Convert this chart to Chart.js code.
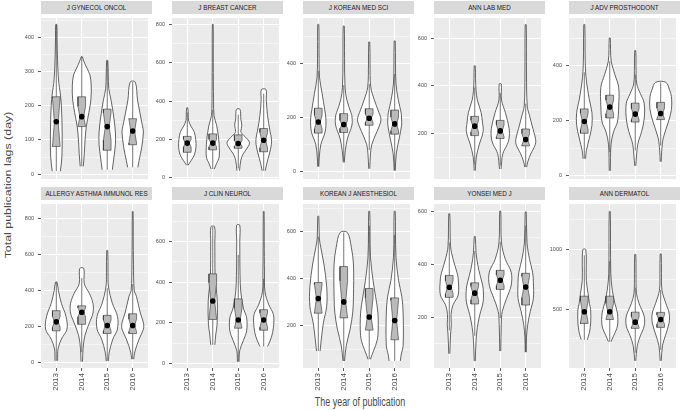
<!DOCTYPE html>
<html>
<head>
<meta charset="utf-8">
<script src="https://cdn.jsdelivr.net/npm/chart.js@4.4.1/dist/chart.umd.min.js"></script>
<style>
  body { margin: 0; width: 680px; height: 410px; overflow: hidden; position: relative; background: #fff;
         font-family: "Liberation Sans", Arial, sans-serif; }
  canvas { position: absolute; }
  .strip { position: absolute; background: #d9d9d9; color: #1a1a1a; font-size: 6.3px; line-height: 13px;
           height: 13px; text-align: center; white-space: nowrap; }
  .title { position: absolute; color: #4a4a4a; font-size: 12.4px; font-weight: 400; line-height: 14px; height: 14px;
           white-space: nowrap; text-align: center; }
</style>
</head>
<body>
<div class="title" style="left:260px;top:395px;width:200px;transform:scaleX(0.72)">The year of publication</div>
<div class="title" style="left:-92px;top:178px;width:200px;transform:scaleX(0.72) rotate(-90deg)">Total publication lags (day)</div>
<script>
const years = ['2013', '2014', '2015', '2016'];
const journals = [
    'J GYNECOL ONCOL', 'J BREAST CANCER', 'J KOREAN MED SCI', 'ANN LAB MED', 'J ADV PROSTHODONT',
    'ALLERGY ASTHMA IMMUNOL RES', 'J CLIN NEUROL', 'KOREAN J ANESTHESIOL', 'YONSEI MED J', 'ANN DERMATOL'
];

// labelled y ticks and y range of each facet (free scales)
const yTicks = [
    [0, 100, 200, 300, 400], [0, 200, 400, 600, 800], [0, 200, 400], [200, 400, 600], [0, 200, 400],
    [0, 200, 400, 600, 800], [0, 200, 400, 600], [200, 400, 600], [200, 400, 600], [500, 1000]
];
const yLimits = [
    [-14, 456], [-6, 833], [-26, 570], [9, 685], [-13, 575],
    [-31, 882], [-23, 784], [20, 717], [8, 628], [6, 1383]
];

// box statistics per journal, one value per year (null = no articles)
const q1 = [
    [81, 139, 70, 86], [133, 146, 154, 136], [144, 146, 173, 140], [null, 191, 179, 148], [154, 210, 195, 204],
    [176, 212, 161, 161], [null, 216, 173, 163], [253, 233, 181, 140], [275, 250, 305, 246], [380, 413, 339, 347]
];
const medians = [
    [152, 168, 139, 126], [181, 181, 179, 196], [185, 176, 199, 178], [null, 231, 211, 175], [197, 250, 224, 226],
    [226, 279, 206, 206], [null, 307, 213, 213], [315, 301, 237, 222], [313, 291, 340, 314], [478, 478, 391, 413]
];
const q3 = [
    [226, 226, 190, 162], [216, 229, 224, 257], [236, 216, 234, 229], [null, 272, 255, 219], [243, 293, 264, 267],
    [288, 315, 262, 271], [null, 440, 317, 264], [383, 451, 358, 318], [358, 330, 377, 366], [609, 609, 475, 473]
];
const means = [
    [153, 168, 139, 126], [181, 181, 179, 196], [185, 176, 199, 178], [null, 231, 211, 175], [197, 250, 224, 226],
    [226, 279, 206, 206], [null, 307, 213, 213], [315, 301, 237, 222], [313, 291, 340, 314], [478, 478, 391, 413]
];
const notches = [
    [70, 30, 40, 35], [20, 20, 15, 40], [25, 15, 15, 25], [null, 25, 25, 25], [30, 25, 20, 20],
    [30, 25, 30, 35], [null, 90, 60, 35], [60, 90, 80, 85], [25, 25, 20, 40], [90, 70, 45, 40]
];

// violin density profiles: [days, half width], from minimum to maximum
const gynecol = [
    [[9, 0.16], [50, 0.22], [120, 0.23], [200, 0.2], [240, 0.15], [265, 0.1], [310, 0.06], [360, 0.04], [400, 0.03], [437, 0.02]],
    [[23, 0.06], [60, 0.1], [100, 0.13], [140, 0.18], [180, 0.28], [220, 0.36], [260, 0.37], [290, 0.32], [310, 0.2], [330, 0.08], [343, 0.02]],
    [[13, 0.2], [31, 0.23], [86, 0.32], [123, 0.32], [170, 0.25], [216, 0.15], [250, 0.06], [290, 0.04], [332, 0.02]],
    [[20, 0.2], [40, 0.25], [77, 0.35], [123, 0.42], [142, 0.38], [216, 0.19], [269, 0.1]]
];
const breast = [
    [[66, 0.03], [90, 0.15], [120, 0.28], [160, 0.34], [200, 0.33], [240, 0.27], [270, 0.14], [300, 0.05], [330, 0.04], [365, 0.02]],
    [[46, 0.06], [75, 0.15], [108, 0.25], [174, 0.25], [207, 0.23], [274, 0.15], [324, 0.05], [400, 0.03], [600, 0.02], [800, 0.015]],
    [[37, 0.05], [91, 0.1], [124, 0.19], [170, 0.42], [191, 0.42], [230, 0.15], [241, 0.1], [274, 0.14], [307, 0.1], [357, 0.07]],
    [[37, 0.06], [75, 0.12], [124, 0.22], [174, 0.3], [207, 0.3], [241, 0.25], [324, 0.15], [407, 0.1], [460, 0.09]]
];
const koreanMed = [
    [[20, 0.02], [55, 0.04], [102, 0.1], [149, 0.27], [196, 0.3], [232, 0.25], [291, 0.15], [349, 0.05], [420, 0.03], [546, 0.02]],
    [[35, 0.02], [79, 0.06], [126, 0.15], [173, 0.32], [208, 0.32], [220, 0.28], [267, 0.12], [314, 0.05], [420, 0.03], [540, 0.02]],
    [[12, 0.02], [67, 0.05], [102, 0.1], [149, 0.3], [185, 0.45], [202, 0.45], [220, 0.38], [267, 0.2], [314, 0.06], [400, 0.03], [481, 0.02]],
    [[5, 0.02], [67, 0.06], [126, 0.18], [173, 0.27], [196, 0.27], [220, 0.25], [267, 0.14], [326, 0.05], [400, 0.03], [485, 0.02]]
];
const labMed = [
    null,
    [[44, 0.02], [101, 0.06], [155, 0.18], [208, 0.33], [248, 0.3], [288, 0.25], [341, 0.1], [381, 0.05], [430, 0.03], [484, 0.02]],
    [[51, 0.03], [115, 0.1], [155, 0.28], [181, 0.35], [221, 0.35], [288, 0.2], [341, 0.05], [408, 0.04]],
    [[59, 0.04], [81, 0.08], [115, 0.2], [155, 0.38], [181, 0.38], [221, 0.28], [275, 0.15], [315, 0.06], [450, 0.03], [657, 0.02]]
];
const prosthodont = [
    [[61, 0.05], [90, 0.08], [137, 0.2], [183, 0.3], [230, 0.3], [276, 0.2], [334, 0.1], [380, 0.05], [450, 0.03], [551, 0.02]],
    [[17, 0.02], [114, 0.05], [160, 0.15], [195, 0.3], [253, 0.35], [322, 0.35], [369, 0.2], [415, 0.06], [460, 0.03], [502, 0.02]],
    [[35, 0.02], [114, 0.1], [160, 0.25], [206, 0.35], [264, 0.35], [299, 0.2], [334, 0.06], [400, 0.03], [456, 0.02]],
    [[50, 0.02], [90, 0.04], [137, 0.1], [195, 0.3], [241, 0.42], [288, 0.42], [311, 0.35], [340, 0.2]]
];
const allergy = [
    [[9, 0.05], [76, 0.07], [130, 0.2], [185, 0.42], [257, 0.38], [329, 0.2], [402, 0.08], [447, 0.03]],
    [[4, 0.03], [76, 0.05], [148, 0.12], [221, 0.3], [275, 0.44], [329, 0.44], [384, 0.3], [438, 0.1], [523, 0.08]],
    [[7, 0.04], [58, 0.08], [130, 0.22], [185, 0.4], [257, 0.4], [329, 0.2], [420, 0.05], [500, 0.03], [623, 0.02]],
    [[18, 0.04], [58, 0.08], [130, 0.25], [185, 0.42], [221, 0.42], [275, 0.3], [366, 0.15], [402, 0.06], [547, 0.03], [700, 0.02], [840, 0.015]]
];
const clinNeurol = [
    null,
    [[91, 0.08], [144, 0.12], [192, 0.17], [304, 0.18], [384, 0.12], [432, 0.09], [592, 0.08], [672, 0.07]],
    [[8, 0.03], [64, 0.06], [112, 0.2], [160, 0.33], [224, 0.33], [272, 0.2], [352, 0.1], [432, 0.07], [600, 0.06], [680, 0.06]],
    [[83, 0.15], [128, 0.3], [176, 0.38], [240, 0.38], [288, 0.2], [352, 0.05], [450, 0.03], [600, 0.02], [747, 0.015]]
];
const anesthesiol = [
    [[92, 0.07], [143, 0.12], [212, 0.2], [282, 0.33], [365, 0.33], [462, 0.22], [531, 0.1], [572, 0.04], [665, 0.02]],
    [[50, 0.03], [116, 0.1], [185, 0.25], [254, 0.35], [323, 0.38], [462, 0.38], [531, 0.3], [596, 0.14]],
    [[57, 0.05], [74, 0.1], [116, 0.25], [157, 0.34], [254, 0.34], [323, 0.25], [392, 0.15], [489, 0.05], [600, 0.03], [686, 0.02]],
    [[50, 0.22], [74, 0.25], [116, 0.33], [254, 0.33], [323, 0.28], [392, 0.15], [489, 0.05], [600, 0.03], [686, 0.02]]
];
const yonsei = [
    [[62, 0.02], [136, 0.05], [173, 0.08], [210, 0.07], [247, 0.15], [284, 0.35], [345, 0.35], [370, 0.3], [419, 0.15], [468, 0.05], [591, 0.02]],
    [[34, 0.02], [111, 0.05], [161, 0.1], [210, 0.2], [259, 0.33], [308, 0.33], [333, 0.28], [382, 0.15], [444, 0.05], [505, 0.02]],
    [[72, 0.02], [173, 0.04], [222, 0.08], [271, 0.25], [321, 0.43], [370, 0.43], [419, 0.2], [481, 0.05], [601, 0.02]],
    [[68, 0.02], [124, 0.03], [173, 0.08], [222, 0.18], [271, 0.3], [333, 0.3], [370, 0.27], [419, 0.15], [481, 0.05], [598, 0.02]]
];
const dermatol = [
    [[243, 0.12], [303, 0.2], [385, 0.25], [495, 0.25], [549, 0.2], [631, 0.15], [740, 0.08], [1000, 0.06]],
    [[227, 0.05], [276, 0.15], [358, 0.3], [467, 0.3], [549, 0.2], [658, 0.1], [800, 0.04], [1320, 0.02]],
    [[66, 0.02], [194, 0.08], [276, 0.2], [358, 0.35], [440, 0.35], [549, 0.15], [631, 0.05], [800, 0.03], [959, 0.02]],
    [[66, 0.02], [194, 0.07], [276, 0.18], [385, 0.33], [467, 0.33], [549, 0.2], [658, 0.05], [800, 0.03], [964, 0.02]]
];
const shapes = [gynecol, breast, koreanMed, labMed, prosthodont, allergy, clinNeurol, anesthesiol, yonsei, dermatol];

// facet layout (pixels)
const colLeft = [41, 172, 303, 434, 569];
const panelW = 111;
const rowTop = [14, 200];
const panelH = [169, 168];
const stripTop = [1, 187];
const yAxisW = 30;
const xAxisH = 30;
const BOX_HALF = 0.15;

Chart.defaults.font.family = "'Liberation Sans', Arial, sans-serif";

const panelBg = {
    id: 'panelBg',
    beforeDraw(chart) {
        const a = chart.chartArea;
        const ctx = chart.ctx;
        ctx.save();
        ctx.fillStyle = '#ebebeb';
        ctx.fillRect(a.left, a.top, a.right - a.left, a.bottom - a.top);
        ctx.restore();
    }
};

function outline(c, prof) {
    const right = prof.map(p => ({ x: c + p[1], y: p[0] }));
    const left = prof.slice().reverse().map(p => ({ x: c - p[1], y: p[0] }));
    return right.concat(left);
}

function notchedBox(c, lo, m, hi, n) {
    const a = c - BOX_HALF, b = c + BOX_HALF;
    const ia = c - BOX_HALF * 0.5, ib = c + BOX_HALF * 0.5;
    const nl = Math.max(lo, m - n), nh = Math.min(hi, m + n);
    return [
        { x: a, y: hi }, { x: a, y: nh }, { x: ia, y: m }, { x: a, y: nl }, { x: a, y: lo },
        { x: b, y: lo }, { x: b, y: nl }, { x: ib, y: m }, { x: b, y: nh }, { x: b, y: hi }, { x: a, y: hi }
    ];
}

function gridValues(majors, lim) {
    const step = majors[1] - majors[0];
    const out = [];
    for (let v = majors[0] - step; v <= lim[1]; v += step / 2) {
        if (v >= lim[0]) out.push(v);
    }
    return out;
}

journals.forEach((name, p) => {
    const row = p < 5 ? 0 : 1;
    const col = p % 5;
    const bottom = row === 1;

    const strip = document.createElement('div');
    strip.className = 'strip';
    strip.textContent = name;
    strip.style.left = colLeft[col] + 'px';
    strip.style.top = stripTop[row] + 'px';
    strip.style.width = panelW + 'px';
    document.body.appendChild(strip);

    const cv = document.createElement('canvas');
    cv.width = panelW + yAxisW;
    cv.height = panelH[row] + (bottom ? xAxisH : 0);
    cv.style.left = (colLeft[col] - yAxisW) + 'px';
    cv.style.top = rowTop[row] + 'px';
    document.body.appendChild(cv);

    const datasets = [];
    const dots = [];
    years.forEach((yr, k) => {
        const prof = shapes[p][k];
        if (!prof) return;
        const c = k + 1;
        const lo = prof[0][0], hi = prof[prof.length - 1][0];
        const iqr = q3[p][k] - q1[p][k];
        const wLo = Math.max(lo, q1[p][k] - 1.5 * iqr);
        const wHi = Math.min(hi, q3[p][k] + 1.5 * iqr);
        datasets.push({
            data: outline(c, prof), fill: 'shape', backgroundColor: '#ffffff',
            borderColor: '#333333', borderWidth: 0.75, tension: 0.35, pointRadius: 0, order: 4
        });
        datasets.push({
            data: [{ x: c, y: wLo }, { x: c, y: wHi }], fill: false,
            borderColor: '#3a3a3a', borderWidth: 0.7, pointRadius: 0, order: 3
        });
        datasets.push({
            data: notchedBox(c, q1[p][k], medians[p][k], q3[p][k], notches[p][k]), fill: 'shape',
            backgroundColor: '#bababa', borderColor: '#333333', borderWidth: 0.6, tension: 0, pointRadius: 0, order: 2
        });
        datasets.push({
            data: [{ x: c - BOX_HALF * 0.5, y: medians[p][k] }, { x: c + BOX_HALF * 0.5, y: medians[p][k] }],
            fill: false, borderColor: '#333333', borderWidth: 1.2, pointRadius: 0, order: 1
        });
        dots.push({ x: c, y: means[p][k] });
    });
    datasets.push({
        data: dots, showLine: false, pointRadius: 2.8, pointBackgroundColor: '#000000',
        pointBorderWidth: 0, order: 0
    });

    const majors = yTicks[p];
    const lines = gridValues(majors, yLimits[p]);
    const isMajor = v => majors.includes(v);

    new Chart(cv, {
        type: 'line',
        data: { datasets },
        options: {
            responsive: false,
            animation: false,
            events: [],
            layout: { padding: 0 },
            plugins: { legend: { display: false }, tooltip: { enabled: false } },
            scales: {
                x: {
                    type: 'linear',
                    bounds: 'data',
                    min: 0.4,
                    max: 4.6,
                    afterBuildTicks: s => { s.ticks = years.map((y, i) => ({ value: i + 1 })); },
                    ticks: {
                        display: bottom,
                        autoSkip: false,
                        callback: v => years[v - 1],
                        minRotation: 90,
                        maxRotation: 90,
                        padding: 2,
                        color: '#4d4d4d',
                        font: { size: 8 }
                    },
                    grid: {
                        color: '#ffffff', lineWidth: 1, drawTicks: bottom,
                        tickColor: '#333333', tickLength: 3, tickWidth: 0.8
                    },
                    border: { display: false },
                    afterFit: s => {
                        s.height = bottom ? xAxisH : 0;
                        s.paddingLeft = 0; s.paddingRight = 0;
                    }
                },
                y: {
                    type: 'linear',
                    bounds: 'data',
                    min: yLimits[p][0],
                    max: yLimits[p][1],
                    afterBuildTicks: s => { s.ticks = lines.map(v => ({ value: v })); },
                    ticks: {
                        autoSkip: false,
                        callback: v => isMajor(v) ? String(v) : '',
                        padding: 4,
                        color: '#4d4d4d',
                        font: { size: 5.5 }
                    },
                    grid: {
                        color: '#ffffff',
                        lineWidth: c => (c.tick && isMajor(c.tick.value)) ? 1 : 0.5,
                        tickColor: c => (c.tick && isMajor(c.tick.value)) ? '#333333' : 'rgba(0,0,0,0)',
                        tickLength: 3,
                        tickWidth: 0.8
                    },
                    border: { display: false },
                    afterFit: s => {
                        s.width = yAxisW;
                        s.paddingTop = 0; s.paddingBottom = 0;
                    }
                }
            }
        },
        plugins: [panelBg]
    });
});
</script>
</body>
</html>
